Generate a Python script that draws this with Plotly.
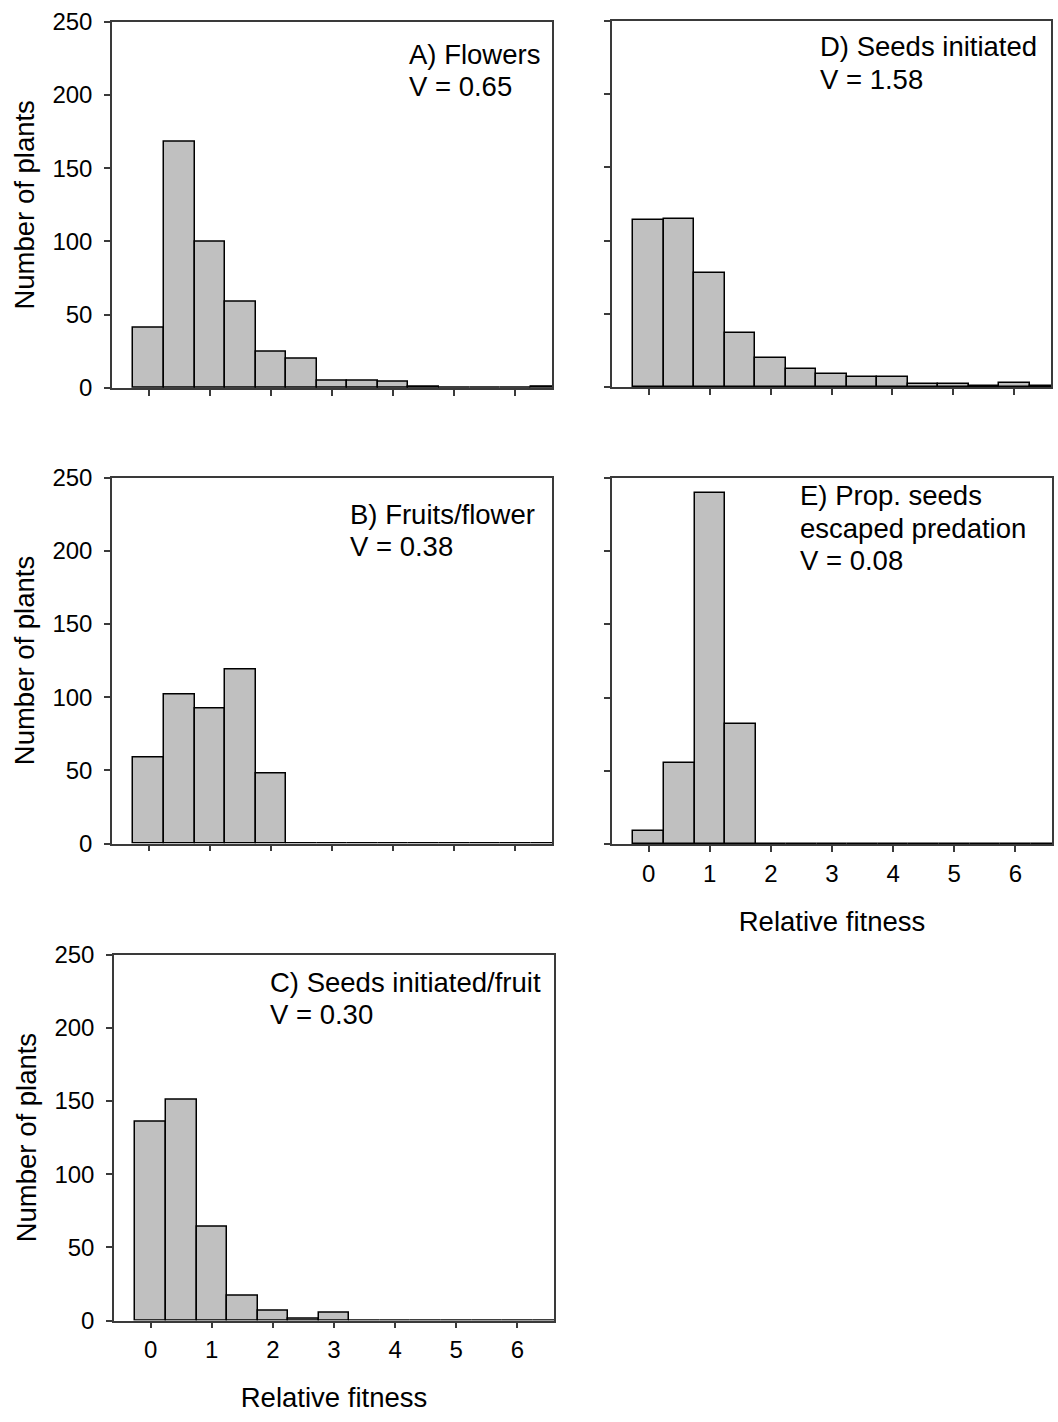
import plotly.graph_objects as go

# ---------------- data ----------------
bin_centers = [0.0, 0.5, 1.0, 1.5, 2.0, 2.5, 3.0, 3.5, 4.0, 4.5, 5.0, 5.5, 6.0, 6.5]
flowers = [41, 168, 100, 59, 25, 20, 5, 5, 4, 1, 0, 0, 0, 1]
fruits_per_flower = [59, 102, 92, 119, 48, 0, 0, 0, 0, 0, 0, 0, 0, 0]
seeds_per_fruit = [136, 151, 64, 17, 7, 1, 5, 0, 0, 0, 0, 0, 0, 0]
seeds_initiated = [114, 115, 78, 37, 20, 12, 9, 7, 7, 2, 2, 1, 3, 1]
prop_escaped = [9, 55, 240, 82, 0, 0, 0, 0, 0, 0, 0, 0, 0, 0]

panel_labels = {
    "A": ["A) Flowers", "V = 0.65"],
    "B": ["B) Fruits/flower", "V = 0.38"],
    "C": ["C) Seeds initiated/fruit", "V = 0.30"],
    "D": ["D) Seeds initiated", "V = 1.58"],
    "E": ["E) Prop. seeds", "escaped predation", "V = 0.08"],
}
x_ticks = [0, 1, 2, 3, 4, 5, 6]
y_ticks = [0, 50, 100, 150, 200, 250]
x_title = "Relative fitness"
y_title = "Number of plants"

# ---------------- layout geometry (pixels, screen coords) ----------------
W, H = 1058, 1422
FONT = "Liberation Sans, Arial, sans-serif"
AX = "#3a3a3a"
TXT = 27.5
TICK = 24

def px_x(p):
    return p / W

def px_y(p):
    return 1 - p / H

# (left, right, top, bottom) in screen pixels for each panel
boxes = {
    "A": (112, 552, 21.7, 388.0),
    "B": (112, 552, 477.5, 843.5),
    "C": (114, 554, 954.7, 1320.5),
    "D": (612, 1051, 21.0, 387.0),
    "E": (612, 1052, 478.0, 844.0),
}
series = {"A": flowers, "B": fruits_per_flower, "C": seeds_per_fruit,
          "D": seeds_initiated, "E": prop_escaped}
# text block: left x, top y of first line box (screen px)
label_pos = {"A": (407, 36.7), "B": (347.7, 496.7), "C": (268, 965),
             "D": (817.7, 29.3), "E": (798, 478.3)}
LINE_STEP = 32.4
show_xlabels = {"A": False, "B": False, "C": True, "D": False, "E": True}
show_ylabels = {"A": True, "B": True, "C": True, "D": False, "E": False}

fig = go.Figure()
layout = dict(
    width=W, height=H,
    margin=dict(l=0, r=0, t=0, b=0),
    paper_bgcolor="white", plot_bgcolor="white",
    showlegend=False,
    font=dict(family=FONT, color="black", size=TICK),
    bargap=0,
)

annotations = []
for i, key in enumerate(["A", "B", "C", "D", "E"]):
    n = i + 1
    xa = "xaxis" if n == 1 else f"xaxis{n}"
    ya = "yaxis" if n == 1 else f"yaxis{n}"
    xr = "x" if n == 1 else f"x{n}"
    yr = "y" if n == 1 else f"y{n}"
    l, r, t, b = boxes[key]
    fig.add_trace(go.Bar(
        x=bin_centers, y=series[key], width=0.5,
        marker=dict(color="#c0c0c0", line=dict(color="black", width=1.5)),
        xaxis=xr, yaxis=yr, hoverinfo="x+y",
    ))
    layout[xa] = dict(
        domain=[px_x(l), px_x(r)], anchor=yr, range=[-0.6, 6.6],
        tickvals=x_ticks, ticktext=[str(v) for v in x_ticks],
        showticklabels=show_xlabels[key],
        ticks="outside", ticklen=6, tickwidth=1.5, tickcolor=AX,
        showline=True, linecolor=AX, linewidth=1.5, mirror=True,
        showgrid=False, zeroline=False, automargin=False,
        tickfont=dict(size=TICK, family=FONT),
        ticklabelstandoff=1,
    )
    if show_xlabels[key]:
        layout[xa]["title"] = dict(text=x_title, font=dict(size=TXT, family=FONT), standoff=26)
    layout[ya] = dict(
        domain=[px_y(b), px_y(t)], anchor=xr, range=[0, 250],
        tickvals=y_ticks, ticktext=[str(v) for v in y_ticks],
        showticklabels=show_ylabels[key],
        ticks="outside", ticklen=6, tickwidth=1.5, tickcolor=AX,
        showline=True, linecolor=AX, linewidth=1.5, mirror=True,
        showgrid=False, zeroline=False, automargin=False,
        tickfont=dict(size=TICK, family=FONT),
        ticklabelstandoff=7,
    )
    if show_ylabels[key]:
        layout[ya]["title"] = dict(text=y_title, font=dict(size=TXT, family=FONT), standoff=10)
    lx, ly = label_pos[key]
    for j, line in enumerate(panel_labels[key]):
        annotations.append(dict(
            text=line, xref="paper", yref="paper",
            x=px_x(lx), y=px_y(ly + j * LINE_STEP), xanchor="left", yanchor="top",
            align="left", showarrow=False,
            font=dict(size=TXT, family=FONT, color="black"),
        ))

layout["annotations"] = annotations
fig.update_layout(**layout)
fig.write_html(
    "out.html",
    config={"displayModeBar": False},
    post_script="document.body.style.margin='0';document.body.style.overflow='hidden';",
)
